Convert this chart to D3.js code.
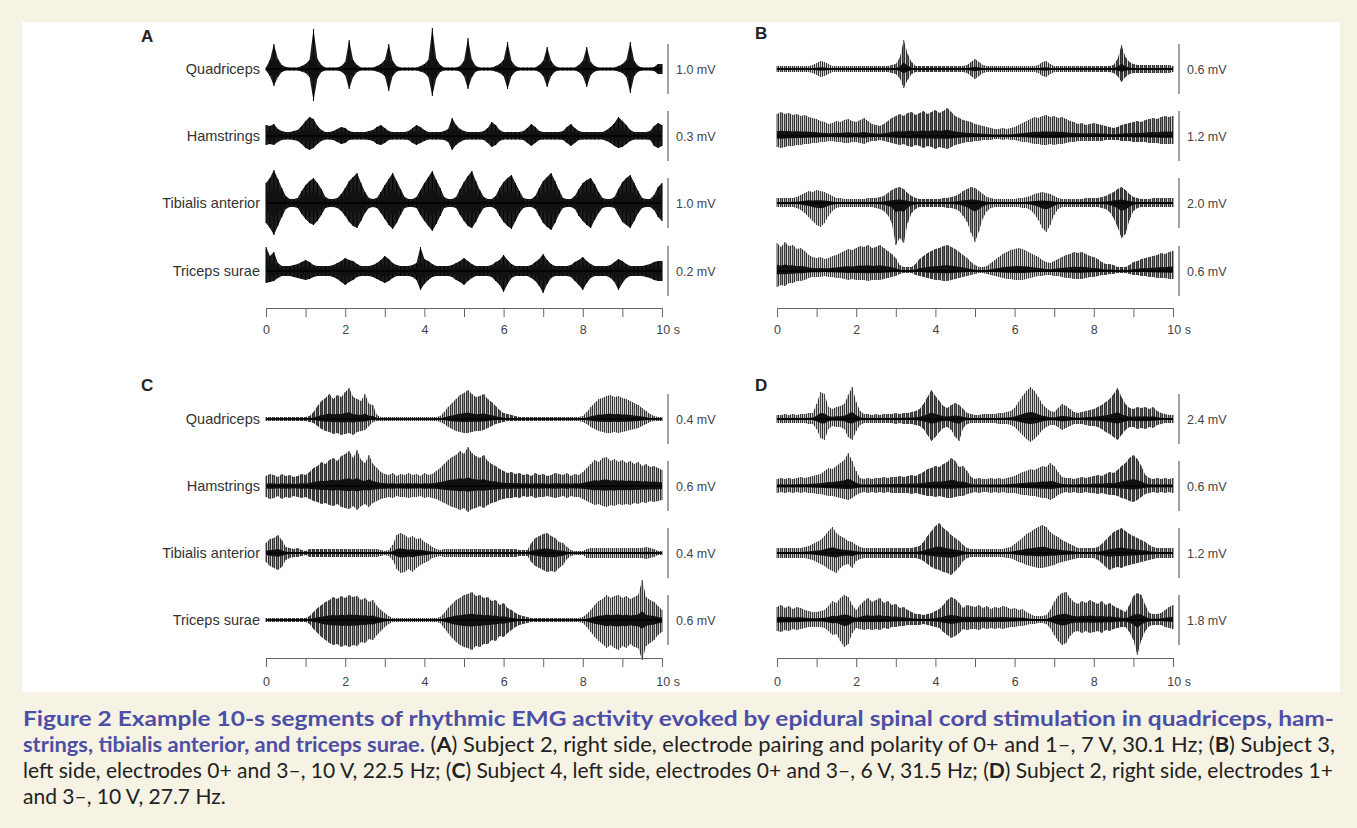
<!DOCTYPE html>
<html lang="en">
<head>
<meta charset="UTF-8">
<title>Figure 2 - rhythmic EMG activity</title>
<script src="https://cdn.jsdelivr.net/npm/d3@7/dist/d3.min.js"></script>
<style>
  body { margin: 0; background: #f6f2e4; }
  svg { display: block; }
  .caption { font-family: Lato, "Open Sans", sans-serif; font-size: 21px; white-space: pre; }
  .axis text { font-family: "Liberation Sans", Arial, sans-serif; font-size: 12.5px; fill: #444; }
  .axis path, .axis line { stroke: #666; }
</style>
</head>
<body>
<script>
// ---- data: EMG envelopes, sampled every 0.1 s over 10 s, in % of each trace's calibration bar ----
const muscles = ["Quadriceps", "Hamstrings", "Tibialis anterior", "Triceps surae"];
const panelIds = ["A", "B", "C", "D"];
const timeTicks = [0, 1, 2, 3, 4, 5, 6, 7, 8, 9, 10];

const calA = [1.0, 0.3, 1.0, 0.2];
const calB = [0.6, 1.2, 2.0, 0.6];
const calC = [0.4, 0.6, 0.4, 0.6];
const calD = [2.4, 0.6, 1.2, 1.8];

// panel A
const aQuadUp = [3,18,50,20,8,4,3,3,3,6, 10,18,80,20,8,3,3,3,3,6, 14,58,18,8,3,3,3,3,6,10, 18,50,16,6,3,3,3,3,3,6, 10,18,82,20,8,3,3,3,3,6, 16,62,18,6,3,3,3,3,6,10, 18,54,16,6,3,3,3,3,3,8, 16,44,16,6,3,3,3,3,3,8, 16,44,14,6,3,3,3,3,3,6, 10,18,54,16,6,3,3,3,4,10,10];
const aQuadDn = [3,14,34,16,6,3,3,3,3,5, 8,16,64,18,6,3,3,3,3,5, 12,40,16,6,3,3,3,3,5,8, 14,44,14,5,3,3,3,3,3,5, 8,16,54,18,6,3,3,3,3,5, 14,40,16,5,3,3,3,3,5,8, 14,40,14,5,3,3,3,3,3,6, 14,36,14,5,3,3,3,3,3,6, 14,36,12,5,3,3,3,3,3,5, 8,16,48,14,5,3,3,3,4,10,10];
const aHamUp = [22,20,24,14,10,8,8,10,12,20, 30,38,34,20,12,8,8,10,14,18, 16,10,8,8,8,8,10,12,18,22, 16,10,8,8,8,8,10,16,22,18, 12,8,8,8,8,10,14,36,22,14, 10,8,8,8,8,10,16,28,22,12, 8,8,8,8,8,10,16,24,18,10, 8,8,8,8,8,10,18,24,16,10, 8,8,8,8,8,8,12,18,26,38, 30,22,12,8,8,8,8,10,20,26,22];
const aHamDn = [18,16,18,12,8,7,7,8,10,16, 24,28,24,16,10,7,7,8,12,16, 14,8,7,7,7,7,8,10,16,18, 14,8,7,7,7,7,8,14,18,14, 10,7,7,7,7,8,12,28,18,12, 8,7,7,7,7,8,14,22,18,10, 7,7,7,7,7,8,14,20,14,8, 7,7,7,7,7,8,14,20,14,8, 7,7,7,7,7,7,10,14,20,24, 22,16,10,7,7,7,7,8,20,24,20];
const aTibUp = [40,50,66,48,30,14,8,8,10,24, 36,44,50,40,28,12,8,8,10,18, 30,44,52,60,40,22,10,8,10,22, 36,48,60,44,28,12,8,8,12,26, 40,52,64,46,30,12,8,8,12,28, 42,54,64,44,26,12,8,8,14,30, 42,50,56,40,24,10,8,8,14,30, 44,52,60,44,26,10,8,8,14,28, 40,46,50,38,22,10,8,8,12,28, 42,50,56,40,24,10,8,8,16,32,40];
const aTibDn = [40,50,64,46,28,12,8,8,10,22, 32,40,44,36,24,10,8,8,10,16, 26,38,46,50,36,20,10,8,10,20, 32,44,52,40,24,10,8,8,10,24, 36,46,56,42,26,10,8,8,10,24, 36,46,50,38,22,10,8,8,12,26, 38,46,52,36,20,10,8,8,12,26, 40,48,54,40,22,10,8,8,12,26, 36,44,50,34,20,10,8,8,10,24, 38,44,50,36,20,10,8,8,14,28,36];
const aTriUp = [48,30,38,16,10,10,10,12,14,18, 22,18,12,10,10,10,10,12,16,20, 26,22,20,14,10,10,10,12,16,22, 30,24,16,12,10,10,10,12,16,48, 24,20,14,10,10,10,10,12,16,20, 26,20,14,10,10,10,10,12,18,22, 32,22,14,10,10,10,10,12,18,24, 34,22,14,10,10,10,10,12,18,22, 28,20,14,10,10,10,10,12,18,24, 20,14,10,10,10,10,12,14,18,20,20];
const aTriDn = [24,22,20,14,10,10,10,12,14,16, 18,16,12,10,10,10,10,12,16,22, 28,22,18,12,10,10,10,12,16,20, 24,20,14,10,10,10,10,12,18,38, 26,18,12,10,10,10,10,12,18,22, 28,20,14,10,10,10,10,12,20,28, 42,26,14,10,10,10,10,14,20,30, 44,26,14,10,10,10,10,12,20,28, 38,24,14,10,10,10,10,14,22,38, 24,14,10,10,10,10,12,14,18,20,20];

// panel B
const bQuadUp = [6,6,6,6,6,6,6,6,6,8, 12,16,14,10,6,6,6,6,6,6, 6,6,6,6,6,6,6,6,6,8, 10,22,58,30,14,6,6,6,6,6, 6,6,6,6,6,6,6,6,8,14, 20,14,8,6,6,6,6,6,6,6, 6,6,6,6,6,6,8,14,16,10, 6,6,6,6,6,6,6,6,6,6, 6,6,6,6,6,8,20,48,24,14, 10,8,8,8,8,8,8,8,8,8,6];
const bQuadDn = [6,6,6,6,6,6,6,6,6,8, 12,16,14,10,6,6,6,6,6,6, 6,6,6,6,6,6,6,6,6,8, 10,18,38,22,10,6,6,6,6,6, 6,6,6,6,6,6,6,6,8,14, 20,14,8,6,6,6,6,6,6,6, 6,6,6,6,6,6,8,14,16,10, 6,6,6,6,6,6,6,6,6,6, 6,6,6,6,6,8,14,26,16,10, 8,8,8,8,8,8,8,8,8,8,6];
const bHamUp = [44,48,44,46,42,44,40,42,38,36, 34,30,28,24,26,30,28,32,34,30, 28,32,36,30,24,22,20,24,30,36, 40,44,40,46,48,42,46,50,44,48, 52,46,50,56,48,40,36,32,30,28, 24,22,20,18,16,14,14,16,14,16, 18,22,26,30,34,38,36,40,42,38, 40,36,38,34,30,28,24,26,22,24, 26,24,22,20,18,16,18,22,24,26, 28,30,28,32,34,36,34,38,40,38,40];
const bHamDn = [22,24,22,20,20,18,18,16,16,14, 14,12,12,10,10,12,12,14,14,12, 12,14,16,12,10,10,8,10,12,14, 16,18,16,20,22,18,20,24,20,22, 26,22,24,26,22,18,16,14,12,12, 10,10,8,8,8,6,6,8,6,8, 8,10,12,12,14,16,16,18,18,16, 18,16,16,14,12,12,10,10,10,10, 10,10,10,8,8,8,8,10,10,10, 12,12,12,12,14,14,14,16,16,16,16];
const bTibUp = [10,10,10,10,10,12,16,20,24,22, 26,24,22,18,14,10,10,8,8,8, 8,8,8,10,10,10,12,14,20,26, 30,32,28,20,14,10,8,8,8,8, 8,8,10,10,12,14,18,24,28,32, 30,24,18,12,10,8,8,8,8,8, 8,10,10,12,14,18,20,22,20,18, 14,10,8,8,8,8,8,8,10,10, 10,10,12,14,18,22,28,32,26,18, 12,10,8,8,8,10,10,10,10,10,10];
const bTibDn = [8,8,8,8,8,10,14,20,28,36, 44,48,40,26,16,10,8,8,8,8, 8,8,8,8,8,10,12,16,24,40, 84,70,80,40,20,12,8,8,8,8, 8,8,8,10,10,12,16,26,38,60, 78,56,30,16,10,8,8,8,8,8, 8,8,10,10,14,22,34,50,58,44, 24,12,8,8,8,8,8,8,8,8, 8,8,10,12,18,30,48,70,62,34, 16,10,8,8,8,8,8,8,8,8,8];
const bTriUp = [56,48,58,50,52,44,46,40,32,28, 26,28,24,26,30,32,36,40,44,42, 46,50,48,52,46,48,52,46,40,34, 26,12,8,8,8,14,24,30,36,40, 44,46,50,52,48,44,38,32,26,18, 12,8,8,10,16,22,28,34,38,42, 44,46,44,40,36,32,28,22,18,16, 20,24,28,32,34,38,36,38,34,30, 28,24,18,14,14,12,8,8,8,12, 18,20,24,26,28,30,32,36,34,38,40];
const bTriDn = [32,28,30,24,24,20,20,18,14,12, 12,12,10,12,12,14,14,16,18,16, 18,18,18,20,18,18,18,16,14,12, 10,6,4,4,4,8,10,12,14,16, 18,18,20,20,18,16,14,12,10,8, 6,4,4,6,8,10,12,14,16,16, 18,18,18,16,14,12,10,10,8,8, 10,10,12,14,14,16,16,16,14,12, 12,10,8,8,6,6,4,4,4,6, 8,8,10,10,12,12,14,14,14,16,16];

// panel C
const cQuadUp = [4,4,4,4,4,4,4,4,4,4, 4,6,14,26,36,42,50,40,48,44, 54,62,44,40,36,50,30,28,8,4, 4,4,4,4,4,4,4,4,4,4, 4,4,4,4,6,14,24,32,40,48, 52,58,50,44,46,50,40,34,26,18, 12,10,8,6,4,4,4,4,4,4, 4,4,4,4,4,4,4,4,4,4, 6,14,24,32,40,42,46,48,44,46, 42,40,36,32,28,22,16,10,6,4,4];
const cQuadDn = [4,4,4,4,4,4,4,4,4,4, 4,6,8,14,20,24,26,30,28,32, 30,28,32,26,24,22,14,6,4,4, 4,4,4,4,4,4,4,4,4,4, 4,4,4,4,6,10,16,20,24,26, 28,28,26,24,24,22,18,14,10,8, 6,4,4,4,4,4,4,4,4,4, 4,4,4,4,4,4,4,4,4,4, 6,10,16,20,24,26,28,28,26,28, 26,24,22,20,18,14,10,6,4,4,4];
const cHamUp = [20,24,22,18,24,20,22,18,20,24, 22,28,36,40,48,44,52,56,50,60, 64,70,56,72,52,46,62,44,36,28, 24,22,26,20,24,22,26,22,24,20, 26,22,24,30,36,44,52,58,62,70, 64,78,66,60,56,62,50,44,40,34, 30,26,28,24,26,22,24,20,26,22, 24,20,22,26,24,22,26,20,24,22, 28,36,44,52,48,56,58,50,54,48, 52,46,50,44,48,40,44,38,40,36,32];
const cHamDn = [22,26,24,20,26,22,24,20,22,24, 22,26,30,32,36,34,38,40,36,42, 44,46,40,48,40,36,42,34,30,26, 24,22,24,20,22,22,24,22,22,20, 24,22,24,26,30,34,38,42,44,48, 44,52,46,44,40,44,38,34,32,28, 26,24,24,22,24,20,22,20,24,22, 22,20,22,24,22,20,24,20,22,22, 26,30,34,38,36,40,42,38,40,36, 38,36,38,34,36,32,34,30,32,30,28];
const cTibUp = [20,28,30,36,26,12,10,8,10,6, 4,8,8,8,8,8,8,8,8,8, 8,8,8,8,8,8,8,8,8,6, 4,6,16,36,40,36,30,34,28,30, 22,18,12,8,6,8,8,8,8,8, 8,8,8,8,8,8,8,8,8,8, 8,8,8,8,6,6,6,20,30,34, 38,40,34,30,22,20,12,6,4,4, 4,8,10,10,10,10,10,10,10,10, 10,10,10,10,10,10,12,10,8,4,4];
const cTibDn = [18,26,30,34,28,14,10,8,8,6, 4,8,8,8,8,8,8,8,8,8, 8,8,8,8,8,8,8,8,8,6, 4,6,14,32,40,38,32,38,30,24, 20,16,10,8,6,8,8,8,8,8, 8,8,8,8,8,8,8,8,8,8, 8,8,8,8,6,6,6,18,26,30, 34,38,36,38,30,24,12,6,4,4, 4,10,10,10,10,10,10,10,10,10, 10,10,10,10,10,10,12,10,8,4,4];
const cTriUp = [4,4,4,4,4,4,4,4,4,4, 4,8,16,24,30,36,40,46,42,48, 44,50,46,48,40,44,36,40,28,20, 14,8,4,4,4,4,4,4,4,4, 4,4,4,4,6,14,24,32,40,44, 50,52,56,48,50,44,46,38,40,30, 34,24,20,14,10,8,6,4,4,4, 4,4,4,4,4,4,4,4,4,4, 6,12,20,30,38,42,50,44,48,50, 44,48,42,46,50,80,46,40,36,28,20];
const cTriDn = [4,4,4,4,4,4,4,4,4,4, 4,8,18,26,34,40,46,50,48,54, 50,54,50,52,44,46,38,40,30,22, 14,8,4,4,4,4,4,4,4,4, 4,4,4,4,6,16,26,36,44,50, 54,56,60,52,54,48,48,40,42,32, 34,26,20,14,10,8,6,4,4,4, 4,4,4,4,4,4,4,4,4,4, 6,14,24,34,42,48,56,50,56,60, 52,56,48,54,56,80,52,46,40,30,24];

// panel D
const dQuadUp = [8,8,10,8,10,8,10,10,12,12, 30,54,50,24,20,24,26,30,48,64, 34,16,10,10,8,10,8,10,10,10, 12,10,12,12,14,16,20,30,44,58, 46,36,26,22,28,32,28,20,12,10, 8,8,10,10,10,10,12,12,14,16, 22,34,46,56,64,56,44,30,22,16, 14,22,30,26,20,14,12,14,16,18, 20,24,28,34,40,50,62,44,30,22, 20,24,22,24,20,24,16,12,10,8,8];
const dQuadDn = [8,8,8,8,8,8,8,8,10,10, 20,38,42,20,14,16,16,20,36,42, 24,12,8,8,8,8,8,8,8,8, 10,8,10,10,10,12,14,20,32,44, 36,26,18,16,22,36,44,18,10,8, 8,8,8,8,8,8,10,10,10,12, 16,24,32,40,46,40,32,22,16,12, 12,16,22,18,14,10,10,10,12,14, 14,16,20,26,30,36,42,32,22,16, 16,20,18,20,16,18,12,10,8,8,8];
const dHamUp = [14,16,14,16,14,16,18,16,18,20, 22,24,30,36,34,40,46,52,66,50, 30,16,14,16,14,16,16,18,16,18, 18,20,18,20,22,20,24,28,34,36, 40,38,44,48,56,50,38,40,30,18, 14,16,14,14,16,14,16,14,16,18, 20,24,28,30,34,32,36,40,38,46, 40,28,18,16,16,14,16,18,16,18, 20,22,20,24,28,26,32,40,46,56, 62,54,40,22,16,14,16,14,16,14,16];
const dHamDn = [14,12,14,12,14,12,14,12,14,14, 16,16,18,20,20,22,24,26,28,24, 18,14,12,14,12,14,12,14,12,14, 14,14,14,14,16,14,16,18,20,20, 22,20,22,24,24,22,20,20,16,14, 12,14,12,12,14,12,14,12,14,14, 14,16,18,18,20,20,22,24,24,28, 24,18,14,12,14,12,14,14,12,14, 14,16,14,16,18,18,20,24,26,30, 32,28,22,16,14,12,14,12,14,12,14];
const dTibUp = [10,10,10,10,10,10,10,12,14,18, 22,26,34,44,52,40,34,30,24,22, 16,12,10,10,10,10,10,10,10,10, 10,10,10,10,10,12,14,22,34,44, 54,60,50,44,36,30,24,16,10,8, 8,8,8,8,8,8,8,8,10,12, 18,24,30,38,42,48,52,56,52,42, 36,32,26,22,18,14,10,10,10,10, 10,12,18,26,34,42,46,50,44,38, 34,30,26,22,16,12,10,10,10,10,10];
const dTibDn = [10,10,10,10,10,10,10,10,12,14, 18,22,26,32,36,40,30,24,22,30, 16,12,10,10,10,10,10,10,10,10, 10,10,10,10,10,10,12,16,22,28, 32,34,38,40,44,36,28,16,10,8, 8,8,8,8,8,8,8,8,10,10, 14,18,20,24,26,28,30,30,28,26, 24,20,18,16,14,12,10,10,10,10, 10,14,20,28,34,30,28,30,26,24, 22,20,18,16,14,12,10,10,10,10,10];
const dTriUp = [26,30,24,28,22,26,24,20,18,16, 16,18,20,28,38,34,44,50,46,30, 20,30,38,44,36,40,44,34,38,30, 32,24,26,20,16,12,12,10,12,14, 18,22,30,40,46,42,34,24,30,28, 26,30,24,28,22,26,24,28,26,22, 24,20,22,16,12,8,8,8,10,20, 36,48,54,56,44,36,32,38,34,40, 36,32,38,30,34,28,24,20,16,30, 48,54,50,30,14,12,12,14,20,26,30];
const dTriDn = [22,24,20,22,18,20,18,16,14,14, 14,14,16,22,30,28,42,54,48,26, 16,18,20,18,20,18,20,16,18,14, 14,12,12,10,10,10,10,8,10,12, 14,16,24,30,36,32,26,18,20,18, 18,20,16,18,16,18,16,18,16,14, 14,12,12,10,8,8,6,6,8,16, 30,42,50,46,32,24,22,26,22,26, 24,22,26,20,22,18,16,14,14,24, 40,70,40,22,12,10,10,10,14,16,18];

const traceData = {
  A: [[aQuadUp, aQuadDn], [aHamUp, aHamDn], [aTibUp, aTibDn], [aTriUp, aTriDn]],
  B: [[bQuadUp, bQuadDn], [bHamUp, bHamDn], [bTibUp, bTibDn], [bTriUp, bTriDn]],
  C: [[cQuadUp, cQuadDn], [cHamUp, cHamDn], [cTibUp, cTibDn], [cTriUp, cTriDn]],
  D: [[dQuadUp, dQuadDn], [dHamUp, dHamDn], [dTibUp, dTibDn], [dTriUp, dTriDn]]
};
const calData = { A: calA, B: calB, C: calC, D: calD };

// ---- layout ----
const W = 1357, H = 828;
const panelLayout = {
  A: { x0: 266, rows: [69, 136, 203, 271], axisY: 308, pad: 8, letter: [141, 42], names: true, dense: true },
  B: { x0: 777, rows: [69, 136, 203, 271], axisY: 308, pad: 8, letter: [755, 39], names: false, dense: false },
  C: { x0: 266, rows: [419, 486, 553, 620], axisY: 658, pad: 10, letter: [141, 391], names: true, dense: false },
  D: { x0: 777, rows: [419, 486, 553, 620], axisY: 658, pad: 10, letter: [755, 391], names: false, dense: false }
};
const plotW = 396;   // 10 s
const barPx = 50;    // calibration bar length

const svg = d3.select("body").append("svg")
  .attr("width", W).attr("height", H);

// stripe fill so bursts read as individual evoked spikes
const defs = svg.append("defs");
defs.append("pattern").attr("id", "spikes")
  .attr("width", 2).attr("height", 8).attr("patternUnits", "userSpaceOnUse")
  .append("rect").attr("width", 1.2).attr("height", 8).attr("fill", "#2e2e2e");

svg.append("rect").attr("width", W).attr("height", H).attr("fill", "#f6f2e4");
svg.append("rect").attr("x", 22).attr("y", 22).attr("width", 1318).attr("height", 670).attr("fill", "#ffffff");

panelIds.forEach(id => {
  const L = panelLayout[id];
  const g = svg.append("g");
  const x = d3.scaleLinear().domain([0, 10]).range([L.x0, L.x0 + plotW]);

  g.append("text")
    .attr("x", L.letter[0]).attr("y", L.letter[1])
    .attr("font-family", "Liberation Sans, Arial, sans-serif")
    .attr("font-weight", "bold").attr("font-size", 17).attr("fill", "#222")
    .text(id);

  traceData[id].forEach((pair, k) => {
    const rowY = L.rows[k];
    // % of calibration bar -> px
    const y = d3.scaleLinear().domain([-50, 50]).range([rowY + barPx / 2, rowY - barPx / 2]);
    const up = pair[0].map((v, i) => [i * 10 / (pair[0].length - 1), v]);
    const dn = pair[1].map((v, i) => [i * 10 / (pair[1].length - 1), -v]);

    const env = d3.area().x(d => x(d[0])).y0(y(0)).y1(d => y(d[1]));
    const core = d3.area().x(d => x(d[0])).y0(y(0)).y1(d => y(d[1] * (L.dense ? 0.45 : 0.22)));

    const shade = L.dense ? "#1e1e1e" : "url(#spikes)";
    g.append("path").datum(up).attr("d", env).attr("fill", shade);
    g.append("path").datum(dn).attr("d", env).attr("fill", shade);

    g.selectAll(null).data(d3.range(up.length)).join("line")
      .attr("x1", i => x(up[i][0])).attr("x2", i => x(up[i][0]))
      .attr("y1", i => y(up[i][1])).attr("y2", i => y(dn[Math.min(i, dn.length - 1)][1]))
      .attr("stroke", L.dense ? "#000" : "#444").attr("stroke-width", 1);

    g.append("path").datum(up).attr("d", core).attr("fill", "#111");
    g.append("path").datum(dn).attr("d", core).attr("fill", "#111");

    g.append("line")
      .attr("x1", x(0)).attr("x2", x(10))
      .attr("y1", y(0)).attr("y2", y(0))
      .attr("stroke", "#000").attr("stroke-width", 1.6);

    // calibration bar
    g.append("line")
      .attr("x1", x(10) + 6).attr("x2", x(10) + 6)
      .attr("y1", y(-50)).attr("y2", y(50))
      .attr("stroke", "#8a8a8a").attr("stroke-width", 1.6);
    g.append("text")
      .attr("x", x(10) + 14).attr("y", rowY + 4.5)
      .attr("font-family", "Liberation Sans, Arial, sans-serif")
      .attr("font-size", 12.5).attr("fill", "#444")
      .text(calData[id][k].toFixed(1) + " mV");

    if (L.names) {
      g.append("text")
        .attr("x", L.x0 - 6).attr("y", rowY + 5)
        .attr("text-anchor", "end")
        .attr("font-family", "Liberation Sans, Arial, sans-serif")
        .attr("font-size", 14.5).attr("fill", "#333")
        .text(muscles[k]);
    }
  });

  const axis = d3.axisBottom(x)
    .tickValues(timeTicks)
    .tickSize(9).tickSizeOuter(0).tickPadding(L.pad)
    .tickFormat(d => d % 2 ? "" : (d === 10 ? "10 s" : d));
  const ax = g.append("g").attr("class", "axis")
    .attr("transform", `translate(0,${L.axisY})`)
    .call(axis);
  ax.selectAll(".tick").filter(d => d === 10).select("text").attr("dx", "0.45em");
});

// ---- caption ----
const blue = "#4c4fa5";
const cap = svg.append("g").attr("class", "caption");
const lines = [
  { y: 726, fit: 1311, parts: [
    { t: "Figure 2  Example 10-s segments of rhythmic EMG activity evoked by epidural spinal cord stimulation in quadriceps, ham-", b: true, c: blue } ] },
  { y: 752, fit: 1312, parts: [
    { t: "strings, tibialis anterior, and triceps surae.", b: true, c: blue },
    { t: " (" }, { t: "A", b: true }, { t: ") Subject 2, right side, electrode pairing and polarity of 0+ and 1\u2013, 7 V, 30.1 Hz; (" },
    { t: "B", b: true }, { t: ") Subject 3," } ] },
  { y: 778, fit: 1310, parts: [
    { t: "left side, electrodes 0+ and 3\u2013, 10 V, 22.5 Hz; (" }, { t: "C", b: true },
    { t: ") Subject 4, left side, electrodes 0+ and 3\u2013, 6 V, 31.5 Hz; (" }, { t: "D", b: true },
    { t: ") Subject 2, right side, electrodes 1+" } ] },
  { y: 804, fit: null, parts: [ { t: "and 3\u2013, 10 V, 27.7 Hz." } ] }
];
lines.forEach(l => {
  const tx = cap.append("text").attr("x", 23).attr("y", l.y).attr("fill", "#222");
  if (l.fit) tx.attr("textLength", l.fit).attr("lengthAdjust", "spacingAndGlyphs");
  l.parts.forEach(p => {
    tx.append("tspan")
      .attr("font-weight", p.b ? "bold" : "normal")
      .attr("fill", p.c || "#222")
      .text(p.t);
  });
});
</script>
</body>
</html>
